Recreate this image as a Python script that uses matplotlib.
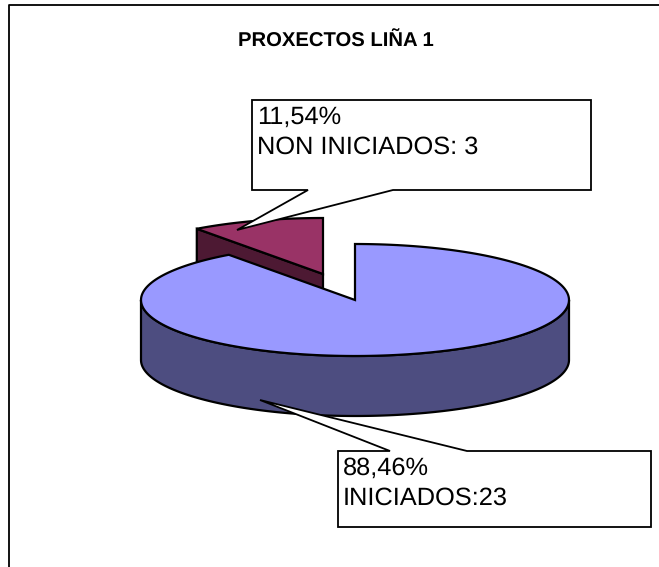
"""
3D style pie chart, PROXECTOS LINA 1
drawn by hand on one pixel sized axes, matplotlib has no 3D pie
"""
import numpy as np
import matplotlib
matplotlib.use("Agg")
import matplotlib.pyplot as plt
from matplotlib.patches import Polygon

plt.rcParams['font.family'] = ['Liberation Sans', 'DejaVu Sans']
plt.rcParams['text.hinting'] = 'no_hinting'

#data
categories = ['INICIADOS', 'NON INICIADOS']
values = [23, 3]
percent_labels = ['88,46%', '11,54%']
callout_labels = ['INICIADOS:23', 'NON INICIADOS: 3']
title = 'PROXECTOS LIÑA 1'

#pie geometry, in pixels
cx, cy = 355, 300
rx, ry = 214, 56
depth = 60
explode = (-32, -26)
squash = 0.87   #the perspective makes the small slice look narrower

top_colors = ['#9999FF', '#993366']
side_colors = ['#4D4D80', '#4D1933']
line_w = 1.6


def arc(x0, y0, a0, a1):
    t = np.radians(np.linspace(a0, a1, 200))
    return np.column_stack([x0 + rx * np.cos(t), y0 - ry * np.sin(t)])


fig = plt.figure(figsize=(6.59, 5.67), dpi=100)
ax = fig.add_axes([0, 0, 1, 1])
ax.set_xlim(0, 659)
ax.set_ylim(567, 0)
ax.axis('off')

#outer frame, only left and top fall inside the image
ax.plot([8.5, 8.5, 662], [570, 5, 5], color='black', lw=1.3, zorder=1)

ax.text(336, 42, title, ha='center', va='center', fontsize=14.6, fontweight='bold', zorder=2)

#slices start at 12 o'clock and run clockwise
span_small = 360 * values[1] / sum(values) * squash
split = 90 + span_small

#exploded small slice, wall first then top
sx, sy = cx + explode[0], cy + explode[1]
corner = arc(sx, sy, split, split)[0]
wall = [corner, (corner[0], corner[1] + depth), (sx, sy + depth), (sx, sy)]
ax.add_patch(Polygon(wall, closed=True, fc=side_colors[1], ec='black', lw=line_w, zorder=3))
top = np.vstack([[(sx, sy)], arc(sx, sy, split, 90)])
ax.add_patch(Polygon(top, closed=True, fc=top_colors[1], ec='black', lw=line_w, zorder=4))

#big slice, front wall then top
front = arc(cx, cy, 180, 360)
wall = np.vstack([front, (front + (0, depth))[::-1]])
ax.add_patch(Polygon(wall, closed=True, fc=side_colors[0], ec='black', lw=line_w, zorder=5))
top = np.vstack([[(cx, cy)], arc(cx, cy, split, 450)])
ax.add_patch(Polygon(top, closed=True, fc=top_colors[0], ec='black', lw=line_w, zorder=6))

#callouts: box with a wedge shaped tail going to the slice
boxes = [(338, 451, 651, 527), (252, 100, 591, 190)]
tails = [[(390, 451), (260, 400), (467, 451)], [(308, 190), (237, 230), (393, 190)]]
for i in [1, 0]:
    x0, y0, x1, y1 = boxes[i]
    t = tails[i]
    if i == 1:
        shape = [(x0, y0), (x1, y0), (x1, y1), t[2], t[1], t[0], (x0, y1)]
    else:
        shape = [(x0, y0), t[0], t[1], t[2], (x1, y0), (x1, y1), (x0, y1)]
    ax.add_patch(Polygon(shape, closed=True, fc='white', ec='black', lw=1.3, zorder=7))
    ax.text(x0 + 5, y0 + 17, percent_labels[i], ha='left', va='center', fontsize=18.3, zorder=8)
    ax.text(x0 + 5, y0 + 47.5, callout_labels[i], ha='left', va='center', fontsize=18.3, zorder=8)

fig.savefig('out.png', dpi=100)
